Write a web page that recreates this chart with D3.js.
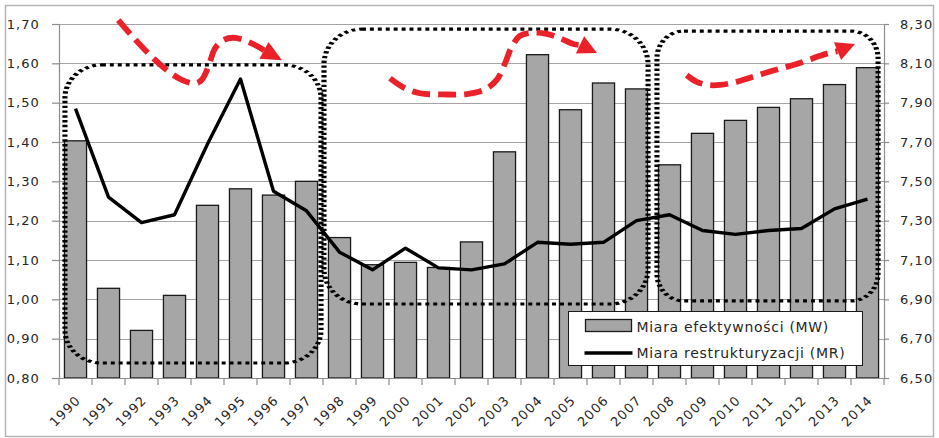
<!DOCTYPE html>
<html>
<head>
<meta charset="utf-8">
<script src="https://cdn.jsdelivr.net/npm/d3@7"></script>
<style>
  body { margin: 0; background: #fff; }
  svg { display: block; }
  text { font-family: "DejaVu Sans", sans-serif; fill: #262626; }
</style>
</head>
<body>
<svg id="chart" width="939" height="438"></svg>
<script>
// ---- data -------------------------------------------------------------
const years = ["1990","1991","1992","1993","1994","1995","1996","1997","1998","1999",
               "2000","2001","2002","2003","2004","2005","2006","2007","2008","2009",
               "2010","2011","2012","2013","2014"];
// efficiency measure (left axis, bars)
const mwValues = [1.403, 1.028, 0.921, 1.010, 1.239, 1.281, 1.265, 1.300, 1.157, 1.088,
                  1.094, 1.081, 1.146, 1.375, 1.622, 1.482, 1.550, 1.535, 1.342, 1.422,
                  1.455, 1.488, 1.510, 1.546, 1.589];
// restructuring measure (right axis, line)
const mrValues = [7.87, 7.42, 7.29, 7.33, 7.69, 8.02, 7.45, 7.35, 7.14, 7.05,
                  7.16, 7.06, 7.05, 7.08, 7.19, 7.18, 7.19, 7.30, 7.33, 7.25,
                  7.23, 7.25, 7.26, 7.36, 7.41];
const leftTicks  = [0.80, 0.90, 1.00, 1.10, 1.20, 1.30, 1.40, 1.50, 1.60, 1.70];
const rightTicks = [6.50, 6.70, 6.90, 7.10, 7.30, 7.50, 7.70, 7.90, 8.10, 8.30];
const seriesNames = ["Miara efektywności (MW)", "Miara restrukturyzacji (MR)"];

// ---- annotation shapes (category position u, left-axis value v) -------
const periodBoxes = [
  { u0: 0.18,  u1: 7.94,  top: 1.596, bottom: 0.838, rx: 37, ry: 33 },
  { u0: 8.03,  u1: 17.85, top: 1.687, bottom: 0.988, rx: 38, ry: 35 },
  { u0: 18.12, u1: 24.82, top: 1.682, bottom: 0.996, rx: 27, ry: 27 }
];
const trendArrows = [
  { path: [[1.797,1.710],[2.252,1.666],[2.758,1.621],[3.264,1.583],[3.718,1.558],[4.121,1.549],
           [4.324,1.558],[4.524,1.591],[4.727,1.638],[4.979,1.659],[5.282,1.665],[5.636,1.658],
           [6.039,1.642],[6.212,1.633]],
    tip: [6.758,1.608] },
  { path: [[10.030,1.562],[10.433,1.539],[10.939,1.524],[11.645,1.521],[12.355,1.522],[12.909,1.534],
           [13.264,1.558],[13.515,1.600],[13.718,1.642],[13.970,1.670],[14.373,1.678],[14.779,1.675],
           [15.182,1.664],[15.585,1.649],[15.788,1.647]],
    tip: [16.303,1.626] },
  { path: [[19.021,1.570],[19.324,1.553],[19.676,1.545],[20.030,1.545],[20.536,1.553],[21.039,1.566],
           [21.545,1.579],[22.052,1.591],[22.555,1.604],[23.061,1.619],[23.364,1.627],[23.591,1.631]],
    tip: [24.121,1.649] }
];

// ---- layout -----------------------------------------------------------
const plot = { left: 59, right: 884, top: 24, bottom: 378 };
const svg = d3.select("#chart");

const plLocale = d3.formatLocale({ decimal: ",", thousands: " ", grouping: [3], currency: ["", " zł"] });
const fmt = plLocale.format(".2f");

const x = d3.scaleBand().domain(years).range([plot.left, plot.right])
  .paddingInner(0.33).paddingOuter(0.165);
const yL = d3.scaleLinear().domain([0.80, 1.70]).range([plot.bottom, plot.top]);
const yR = d3.scaleLinear().domain([6.50, 8.30]).range([plot.bottom, plot.top]);
const uPos = u => plot.left + u * x.step();

// outer frame
svg.append("rect").attr("x", 5.5).attr("y", 5.5).attr("width", 928).attr("height", 431)
  .attr("fill", "#fff").attr("stroke", "#b5b5b5").attr("stroke-width", 1.5);

// horizontal gridlines
svg.append("g").selectAll("line").data(leftTicks.slice(1)).join("line")
  .attr("x1", plot.left).attr("x2", plot.right)
  .attr("y1", d => Math.round(yL(d)) + 0.5).attr("y2", d => Math.round(yL(d)) + 0.5)
  .attr("stroke", "#a3a3a3").attr("stroke-width", 1);

// bars
svg.append("g").selectAll("rect").data(years).join("rect")
  .attr("x", d => x(d)).attr("width", x.bandwidth())
  .attr("y", (d, i) => yL(mwValues[i]))
  .attr("height", (d, i) => yL(0.80) - yL(mwValues[i]))
  .attr("fill", "#a6a6a6").attr("stroke", "#1a1a1a").attr("stroke-width", 1.3);

// dotted period boxes (stretched horizontally, as in the original drawing)
const SX = 1.65;
svg.append("g").attr("transform", `scale(${SX},1)`)
  .selectAll("rect").data(periodBoxes).join("rect")
  .attr("x", d => uPos(d.u0) / SX)
  .attr("width", d => (uPos(d.u1) - uPos(d.u0)) / SX)
  .attr("y", d => yL(d.top))
  .attr("height", d => yL(d.bottom) - yL(d.top))
  .attr("rx", d => d.rx / SX).attr("ry", d => d.ry)
  .attr("fill", "none").attr("stroke", "#000").attr("stroke-width", 3.1)
  .attr("stroke-dasharray", "2.4 2.4");

// restructuring line
const line = d3.line().x((d, i) => x(years[i]) + x.bandwidth() / 2).y(d => yR(d));
svg.append("path").datum(mrValues).attr("d", line)
  .attr("fill", "none").attr("stroke", "#000").attr("stroke-width", 3.4)
  .attr("stroke-linejoin", "round");

// red dashed trend arrows
const arrowLine = d3.line().x(d => uPos(d[0])).y(d => yL(d[1])).curve(d3.curveCatmullRom.alpha(0.5));
const arrows = svg.append("g");
trendArrows.forEach(a => {
  arrows.append("path").attr("d", arrowLine(a.path))
    .attr("fill", "none").attr("stroke", "#ea2128").attr("stroke-width", 5.8)
    .attr("stroke-dasharray", "18 8");
  const b = a.path[a.path.length - 1];
  const bx = uPos(b[0]), by = yL(b[1]), tx = uPos(a.tip[0]), ty = yL(a.tip[1]);
  const len = Math.hypot(tx - bx, ty - by), nx = -(ty - by) / len, ny = (tx - bx) / len, hw = 9.5;
  arrows.append("path")
    .attr("d", `M${bx + nx * hw},${by + ny * hw}L${tx},${ty}L${bx - nx * hw},${by - ny * hw}Z`)
    .attr("fill", "#ea2128");
});

// axes
const axisColor = "#8c8c8c";
const styleAxis = g => {
  g.select(".domain").attr("stroke", axisColor).attr("stroke-width", 1.2);
  g.selectAll(".tick line").attr("stroke", axisColor).attr("stroke-width", 1.2);
  g.selectAll("text").style("font-size", "13px").style("letter-spacing", "1.1px").attr("fill", "#262626");
};
svg.append("g").attr("transform", `translate(${plot.left},0)`)
  .call(d3.axisLeft(yL).tickValues(leftTicks).tickFormat(fmt).tickSize(7).tickPadding(12).tickSizeOuter(0))
  .call(styleAxis);
svg.append("g").attr("transform", `translate(${plot.right},0)`)
  .call(d3.axisRight(yR).tickValues(rightTicks).tickFormat(fmt).tickSize(5).tickPadding(11).tickSizeOuter(0))
  .call(styleAxis);

const xAxis = svg.append("g").attr("transform", `translate(0,${plot.bottom})`)
  .call(d3.axisBottom(x).tickSize(0).tickPadding(0).tickSizeOuter(0))
  .call(styleAxis);
xAxis.selectAll(".tick text")
  .attr("x", 0).attr("y", 0).attr("dy", 0)
  .attr("text-anchor", "end")
  .attr("transform", "translate(6,23) rotate(-45)");
// category boundary ticks
xAxis.append("g").selectAll("line").data(d3.range(years.length + 1)).join("line")
  .attr("x1", i => uPos(i)).attr("x2", i => uPos(i))
  .attr("y1", 0).attr("y2", 7)
  .attr("stroke", axisColor).attr("stroke-width", 1.2);

// legend
const lg = svg.append("g").attr("transform", "translate(568.5,311.5)");
lg.append("rect").attr("width", 294).attr("height", 54)
  .attr("fill", "#fff").attr("stroke", "#1a1a1a").attr("stroke-width", 1);
lg.append("rect").attr("x", 17).attr("y", 8).attr("width", 46).attr("height", 12)
  .attr("fill", "#a6a6a6").attr("stroke", "#1a1a1a").attr("stroke-width", 1.3);
lg.append("line").attr("x1", 16).attr("x2", 64).attr("y1", 41.5).attr("y2", 41.5)
  .attr("stroke", "#000").attr("stroke-width", 3.6);
lg.selectAll("text.lab").data(seriesNames).join("text").attr("class", "lab")
  .attr("x", 68).attr("y", (d, i) => 20 + i * 26)
  .style("font-size", "14px").style("letter-spacing", "0.7px")
  .text(d => d);
</script>
</body>
</html>
